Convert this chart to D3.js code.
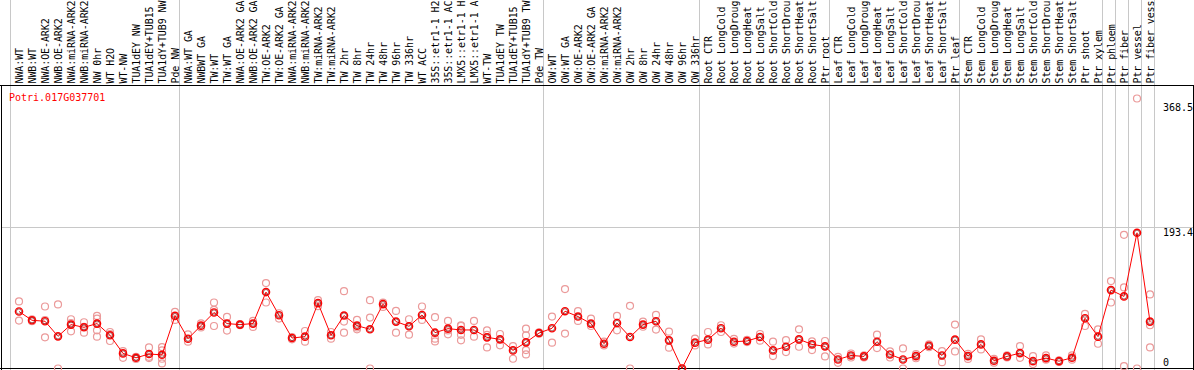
<!DOCTYPE html>
<html><head><meta charset="utf-8">
<script src="https://cdn.jsdelivr.net/npm/d3@7"></script>
<style>
html,body{margin:0;padding:0;background:#fff;}
svg{display:block;}
text{font-family:"DejaVu Sans Mono",monospace;font-size:10px;}
</style></head>
<body><svg id="chart" width="1194" height="370"></svg>
<script>
const title = "Potri.017G037701";
const categories = [
"NWA:WT","NWB:WT","NWA:OE-ARK2","NWB:OE-ARK2","NWA:miRNA-ARK2","NWB:miRNA-ARK2","NW 0hr","WT H2O","WT-NW","TUA1dEY NW","TUA1dEY+TUB15","TUA1dY+TUB9 NW","Pde NW",
"NWA:WT GA","NWBWT GA","TW:WT","TW:WT GA","NWA:OE-ARK2 GA","NWB:OE-ARK2 GA","TW:OE-ARK2","TW:OE-ARK2 GA","NWA:miRNA-ARK2","NWB:miRNA-ARK2","TW:miRNA-ARK2","TW:miRNA-ARK2","TW 2hr","TW 8hr","TW 24hr","TW 48hr","TW 96hr","TW 336hr","WT ACC","35S::etr1-1 H2","35S::etr1-1 AC","LMX5::etr1-1 H","LMX5::etr1-1 A","WT-TW","TUA1dEY TW","TUA1dEY+TUB15","TUA1dY+TUB9 TW","Pde TW",
"OW:WT","OW:WT GA","OW:OE-ARK2","OW:OE-ARK2 GA","OW:miRNA-ARK2","OW:miRNA-ARK2","OW 2hr","OW 8hr","OW 24hr","OW 48hr","OW 96hr","OW 336hr",
"Root CTR","Root LongCold","Root LongDroug","Root LongHeat","Root LongSalt","Root ShortCold","Root ShortDrou","Root ShortHeat","Root ShortSalt","Ptr root",
"Leaf CTR","Leaf LongCold","Leaf LongDroug","Leaf LongHeat","Leaf LongSalt","Leaf ShortCold","Leaf ShortDrou","Leaf ShortHeat","Leaf ShortSalt","Ptr leaf",
"Stem CTR","Stem LongCold","Stem LongDroug","Stem LongHeat","Stem LongSalt","Stem ShortCold","Stem ShortDrou","Stem ShortHeat","Stem ShortSalt","Ptr shoot","Ptr xylem",
"Ptr phloem","Ptr fiber","Ptr vessel","Ptr fiber vess"
];
const groupSizes = [13,28,12,10,10,11,1,1,1,1];
const means = [
77.8,65.8,64.5,43.9,59.9,56.2,61.3,45.3,20.6,14.6,19.7,18.7,71.8,
40.7,58.5,76.4,61.3,59.9,61.3,104.3,72.7,41.6,43.5,89.2,45.3,72.3,58.5,53.5,87.8,64.0,57.6,73.1,48.9,54.4,52.6,52.6,42.5,39.8,24.7,35.7,48.4,
54.9,78.2,70.9,61.3,33.8,62.2,43.0,59.9,64.5,38.4,0,35.3,
39.4,54.9,36.6,37.5,43.0,24.7,29.7,39.8,32.9,30.2,
12.3,17.8,16.5,36.6,19.2,12.3,16.9,31.1,17.8,39.4,
16.9,32.9,10.5,16.5,21.0,10.0,14.2,10.0,14.6,68.6,43.5,
107.0,98.4,185.2,64.0
];
const replicates = [
[91.5,65.4],[67,64.5],[84.6,42.5,66],[87.4,0],[67.2,50.8,62],[63.1,48.9,57],[71.8,68.2,52.1,43.5],[49.8,37.5,47],[23.8,14.6],[16,13],[28.8,14.2,16],[29.3,24.7,13.3,6.9],[77.3,66.3],
[46.6,36.6],[61.7,56],[90.1,58.0,80],[70.4,51.7],[60.5,59],[64.9,56.7],[116.6,90.1],[75.4,68.2],[39.8,43],[51.2,36.6],[93.3,85],[49.8,40.7],[105.6,64.0,48.9],[66.3,53.5,56],[93.3,69.5,0],[90,84],[78.6,48.9],[67.2,46.2],[84.6,66.3],[70.0,40.7,37.0],[64.9,46.6,52],[59.0,38.4,46,58],[64.9,43.5],[52.1,28.8,46],[47.1,31.6],[30.6,13.3],[54.4,45.3,19.2,25.1],[49.5,47.5],
[70.9,35.3],[108.4,47.6],[78.2,64.9],[68.2,58],[36.6,31.5],[71.8,52.1],[85.5,0],[64.0,57],[73.1,53.1],[50.3,28.4],[0,0],[40.7,31.5],
[49.8,32.9],[59.0,49.8],[40.5,34],[39,36],[47.1,38],[36.6,16.9],[38.8,22.4],[53.5,29.7],[37.0,25.1],[37.5,16.5],
[16.0,7.8],[20.5,15],[18,15],[46.2,27.9],[23.3,15],[27.4,0],[19.5,14],[33,29],[23.8,8.7],[59.9,23.3],
[20,13],[39.8,26.1],[13,8],[18,15],[30.6,14.6],[16.9,6],[18,12],[11,9],[18,12],[74.5,58.0],[53.5,33.8],
[119.3,90.1],[182.4,110.7,3.2],[368.5,0],[101.1,59.0,28.8]
];
const yTicks = [0,193.4,368.5];
const yTickLabels = ["0","193.4","368.5"];

const svg = d3.select("#chart");
const W = 1194, H = 370;
const plotTop = 85.5, plotBottom = 368.5;

const x = d3.scaleBand().domain(d3.range(categories.length)).range([10.5, 10.5 + 13*categories.length]).paddingInner(0).paddingOuter(0);
const xOff = 8.5;
const y = d3.scaleLinear().domain([0, 368.5]).range([368.5, 98.5]);

// group separators
const bounds = [0];
groupSizes.reduce((a,s)=>{bounds.push(a+s);return a+s;},0);
svg.append("g").selectAll("line").data(bounds).join("line")
  .attr("x1", k => k < categories.length ? x(k) : x(categories.length-1)+x.bandwidth())
  .attr("x2", k => k < categories.length ? x(k) : x(categories.length-1)+x.bandwidth())
  .attr("y1",0).attr("y2",H).attr("stroke","#c8c8c8").attr("stroke-width",1);

// gridline for middle tick
svg.append("line").attr("x1",1).attr("x2",1193).attr("y1",Math.round(y(193.4))+0.5).attr("y2",Math.round(y(193.4))+0.5)
  .attr("stroke","#c8c8c8");

// frame
svg.append("line").attr("x1",0).attr("x2",W).attr("y1",plotTop).attr("y2",plotTop).attr("stroke","#000");
svg.append("line").attr("x1",0).attr("x2",W).attr("y1",plotBottom).attr("y2",plotBottom).attr("stroke","#000");
svg.append("line").attr("x1",1.5).attr("x2",1.5).attr("y1",plotTop).attr("y2",H).attr("stroke","#000");
svg.append("line").attr("x1",1193.5).attr("x2",1193.5).attr("y1",plotTop).attr("y2",H).attr("stroke","#000");

// category labels
svg.append("g").selectAll("text").data(categories).join("text")
  .attr("transform",(d,i)=>`translate(${x(i)+xOff},83.5) rotate(-90)`)
  .attr("dy","0.36em").attr("letter-spacing","-0.1px").attr("fill","#000").text(d=>d);

// title
svg.append("text").attr("x",9).attr("y",101).attr("fill","#ff0000").text(title);

// y tick labels
const tickOffsets = [-3, 9.5, 12];
svg.append("g").selectAll("text").data(yTicks).join("text")
  .attr("x",1163).attr("y",(d,i)=>y(d)+tickOffsets[i]).attr("fill","#000").text((d,i)=>yTickLabels[i]);

// replicates
const repPts = [];
replicates.forEach((arr,i)=>arr.forEach(v=>repPts.push({i,v})));
svg.append("g").selectAll("circle").data(repPts).join("circle")
  .attr("cx",d=>x(d.i)+xOff).attr("cy",d=>y(d.v)).attr("r",3.5)
  .attr("fill","none").attr("stroke","#eb9a9a").attr("stroke-width",1.2);

// mean line
svg.append("path").datum(means)
  .attr("d", d3.line().x((d,i)=>x(i)+xOff).y(d=>y(d)))
  .attr("fill","none").attr("stroke","#ff0000").attr("stroke-width",1);

// mean markers
const mg = svg.append("g").selectAll("g").data(means).join("g")
  .attr("transform",(d,i)=>`translate(${x(i)+xOff},${y(d)})`);
mg.append("circle").attr("r",3.6).attr("fill","none").attr("stroke","#ff0000").attr("stroke-width",1.4);
mg.append("circle").attr("r",2.6).attr("fill","none").attr("stroke","#700000").attr("stroke-width",0.6);
</script></body></html>
